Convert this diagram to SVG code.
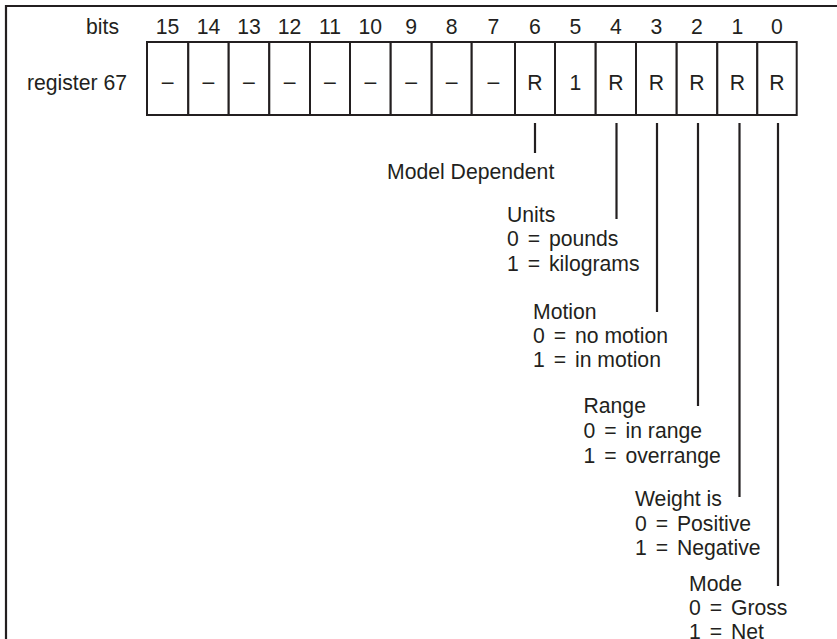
<svg xmlns="http://www.w3.org/2000/svg" width="837" height="639" viewBox="0 0 837 639">
<style>
text{font-family:"Liberation Sans",Arial,sans-serif;font-size:21.2px;fill:#231f20}
.c{text-anchor:middle}
.r{text-anchor:end}
.cell{fill:#fff;stroke:#231f20;stroke-width:2}
.ln{stroke:#231f20;stroke-width:2.2;fill:none}
</style>
<rect width="837" height="639" fill="#fff"/>
<g id="frame"><path class="ln" d="M6,640 V6 H840"/></g>
<g id="labels">
<text class="r" x="119" y="34">bits</text>
<text class="r" x="127" y="90">register 67</text>
</g>
<g id="register">
<rect class="cell" x="147" y="42" width="41.3" height="73"/>
<rect class="cell" x="188.3" y="42" width="40.4" height="73"/>
<rect class="cell" x="228.7" y="42" width="40.6" height="73"/>
<rect class="cell" x="269.3" y="42" width="40.7" height="73"/>
<rect class="cell" x="310" y="42" width="40" height="73"/>
<rect class="cell" x="350" y="42" width="40.7" height="73"/>
<rect class="cell" x="390.7" y="42" width="41" height="73"/>
<rect class="cell" x="431.7" y="42" width="40" height="73"/>
<rect class="cell" x="471.7" y="42" width="43.3" height="73"/>
<rect class="cell" x="515" y="42" width="40" height="73"/>
<rect class="cell" x="555" y="42" width="40.7" height="73"/>
<rect class="cell" x="595.7" y="42" width="40.3" height="73"/>
<rect class="cell" x="636" y="42" width="40.7" height="73"/>
<rect class="cell" x="676.7" y="42" width="40.6" height="73"/>
<rect class="cell" x="717.3" y="42" width="40" height="73"/>
<rect class="cell" x="757.3" y="42" width="39.4" height="73"/>
<text class="c" x="167.6" y="34">15</text>
<text class="c" x="208.5" y="34">14</text>
<text class="c" x="249" y="34">13</text>
<text class="c" x="289.6" y="34">12</text>
<text class="c" x="330" y="34">11</text>
<text class="c" x="370.3" y="34">10</text>
<text class="c" x="411.2" y="34">9</text>
<text class="c" x="451.7" y="34">8</text>
<text class="c" x="493.3" y="34">7</text>
<text class="c" x="535" y="34">6</text>
<text class="c" x="575.3" y="34">5</text>
<text class="c" x="615.9" y="34">4</text>
<text class="c" x="656.3" y="34">3</text>
<text class="c" x="697" y="34">2</text>
<text class="c" x="737.3" y="34">1</text>
<text class="c" x="777" y="34">0</text>
<text class="c" x="167.6" y="89">–</text>
<text class="c" x="208.5" y="89">–</text>
<text class="c" x="249" y="89">–</text>
<text class="c" x="289.6" y="89">–</text>
<text class="c" x="330" y="89">–</text>
<text class="c" x="370.3" y="89">–</text>
<text class="c" x="411.2" y="89">–</text>
<text class="c" x="451.7" y="89">–</text>
<text class="c" x="493.3" y="89">–</text>
<text class="c" x="535" y="90">R</text>
<text class="c" x="575.3" y="90">1</text>
<text class="c" x="615.9" y="90">R</text>
<text class="c" x="656.3" y="90">R</text>
<text class="c" x="697" y="90">R</text>
<text class="c" x="737.3" y="90">R</text>
<text class="c" x="777" y="90">R</text>
</g>
<g id="connectors">
<line class="ln" x1="535" y1="123" x2="535" y2="153"/>
<line class="ln" x1="616.5" y1="123" x2="616.5" y2="219"/>
<line class="ln" x1="657" y1="123" x2="657" y2="312"/>
<line class="ln" x1="698" y1="123" x2="698" y2="406"/>
<line class="ln" x1="739.5" y1="123" x2="739.5" y2="497"/>
<line class="ln" x1="778" y1="123" x2="778" y2="586"/>
</g>
<g id="model"><text x="387" y="179">Model Dependent</text></g>
<g id="units">
<text x="507" y="222">Units</text>
<text x="507" y="246">0<tspan dx="3"> =</tspan><tspan dx="3"> pounds</tspan></text>
<text x="507" y="271">1<tspan dx="3"> =</tspan><tspan dx="3"> kilograms</tspan></text>
</g>
<g id="motion">
<text x="533" y="319">Motion</text>
<text x="533" y="343">0<tspan dx="3"> =</tspan><tspan dx="3"> no motion</tspan></text>
<text x="533" y="367">1<tspan dx="3"> =</tspan><tspan dx="3"> in motion</tspan></text>
</g>
<g id="range">
<text x="583.5" y="413">Range</text>
<text x="583.5" y="438">0<tspan dx="3"> =</tspan><tspan dx="3"> in range</tspan></text>
<text x="583.5" y="462.5">1<tspan dx="3"> =</tspan><tspan dx="3"> overrange</tspan></text>
</g>
<g id="weight">
<text x="635" y="506">Weight is</text>
<text x="635" y="531">0<tspan dx="3"> =</tspan><tspan dx="3"> Positive</tspan></text>
<text x="635" y="555">1<tspan dx="3"> =</tspan><tspan dx="3"> Negative</tspan></text>
</g>
<g id="mode">
<text x="689" y="590.5">Mode</text>
<text x="689" y="615">0<tspan dx="3"> =</tspan><tspan dx="3"> Gross</tspan></text>
<text x="689" y="638.5">1<tspan dx="3"> =</tspan><tspan dx="3"> Net</tspan></text>
</g>
</svg>
